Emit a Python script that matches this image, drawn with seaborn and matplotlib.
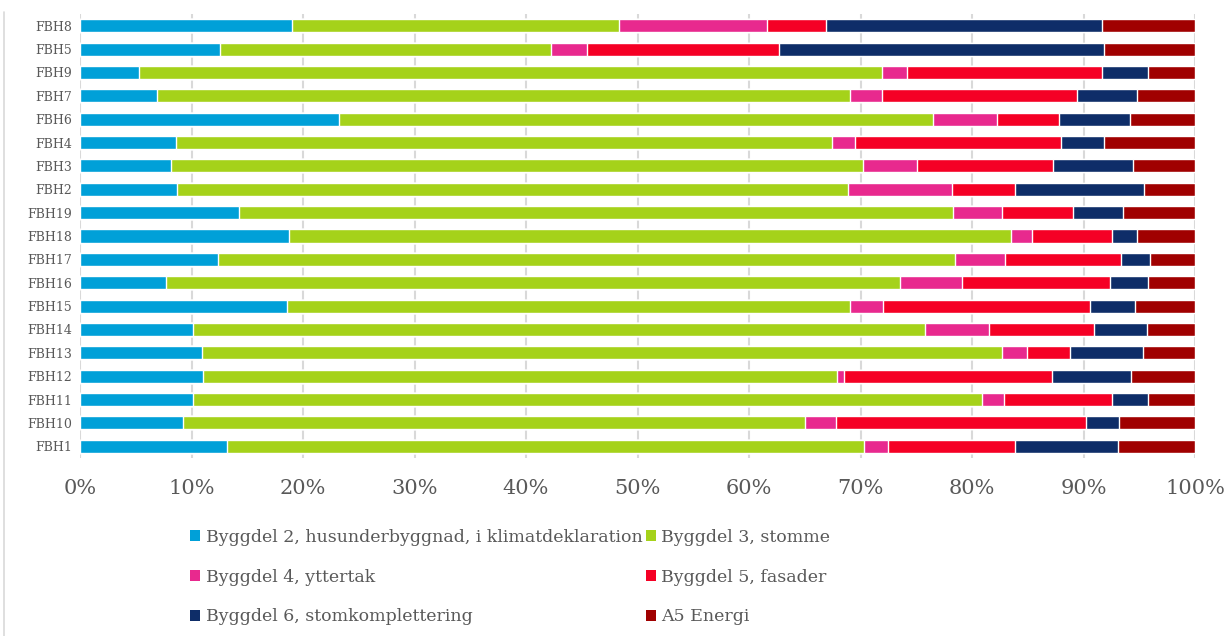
import matplotlib
matplotlib.use("Agg")
import matplotlib.pyplot as plt
import seaborn as sns
import numpy as np
import pandas as pd
from matplotlib.lines import Line2D
from matplotlib.patches import Patch

categories = ["FBH8", "FBH5", "FBH9", "FBH7", "FBH6", "FBH4", "FBH3", "FBH2", "FBH19",
              "FBH18", "FBH17", "FBH16", "FBH15", "FBH14", "FBH13", "FBH12", "FBH11",
              "FBH10", "FBH1"]

byggdel2 = [19.0, 12.6, 5.3, 6.9, 23.2, 8.6, 8.2, 8.7, 14.3, 18.7, 12.4, 7.7, 18.6, 10.1, 10.9, 11.0, 10.1, 9.2, 13.2]
byggdel3 = [29.3, 29.6, 66.6, 62.2, 53.3, 58.8, 62.0, 60.2, 64.0, 64.8, 66.1, 65.8, 50.5, 65.7, 71.8, 56.9, 70.8, 55.8, 57.1]
byggdel4 = [13.3, 3.3, 2.3, 2.8, 5.7, 2.1, 4.9, 9.3, 4.4, 1.9, 4.5, 5.6, 2.9, 5.7, 2.2, 0.6, 2.0, 2.8, 2.2]
byggdel5 = [5.3, 17.2, 17.5, 17.5, 5.6, 18.5, 12.2, 5.7, 6.4, 7.2, 10.4, 13.3, 18.6, 9.4, 3.9, 18.7, 9.7, 22.4, 11.4]
byggdel6 = [24.8, 29.1, 4.1, 5.4, 6.4, 3.8, 7.1, 11.5, 4.4, 2.2, 2.6, 3.4, 4.0, 4.8, 6.5, 7.1, 3.2, 3.0, 9.2]
a5_energi = [8.3, 8.2, 4.2, 5.2, 5.8, 8.2, 5.6, 4.6, 6.5, 5.2, 4.0, 4.2, 5.4, 4.3, 4.7, 5.7, 4.2, 6.8, 6.9]

series_names = ["Byggdel 2, husunderbyggnad, i klimatdeklaration", "Byggdel 3, stomme",
                "Byggdel 4, yttertak", "Byggdel 5, fasader",
                "Byggdel 6, stomkomplettering", "A5 Energi"]
colors = ["#00A0D8", "#A5D21A", "#E8298E", "#F50025", "#0E2D68", "#A00000"]
tick_labels = ["0%", "10%", "20%", "30%", "40%", "50%", "60%", "70%", "80%", "90%", "100%"]

series = [byggdel2, byggdel3, byggdel4, byggdel5, byggdel6, a5_energi]
vals = np.array(series, dtype=float)
vals = vals / vals.sum(axis=0) * 100.0
cum = np.cumsum(vals, axis=0)

sns.set_theme(style="white")
plt.rcParams["font.family"] = ["DejaVu Serif"]

fig = plt.figure(figsize=(12.29, 6.36), dpi=100)
ax = fig.add_axes([80 / 1229, 1 - 458 / 636, (1195 - 80) / 1229, (458 - 14) / 636])

# draw cumulative bars from largest to smallest so each overlays the previous
for i in range(len(series) - 1, -1, -1):
    df = pd.DataFrame({"cat": categories, "val": cum[i]})
    sns.barplot(data=df, x="val", y="cat", order=categories, color=colors[i],
                orient="h", width=0.56, saturation=1, ax=ax, zorder=3)

ax.set_xlim(0, 100)
ax.set_ylim(18.5, -0.5)
ax.set_xticks(np.arange(0, 101, 10))
ax.set_xticklabels(tick_labels, fontsize=15, color="#595959")
ax.tick_params(axis="x", length=0, pad=15)
ax.tick_params(axis="y", length=0, pad=6, labelsize=9, labelcolor="#595959")
ax.set_xlabel("")
ax.set_ylabel("")
ax.xaxis.grid(True, color="#D9D9D9", linewidth=1.5, zorder=0)
ax.yaxis.grid(False)
ax.set_axisbelow(True)
for s in ax.spines.values():
    s.set_visible(False)

handles = [Patch(facecolor=colors[i], edgecolor="none") for i in range(6)]
order = [0, 2, 4, 1, 3, 5]
leg = fig.legend([handles[i] for i in order], [series_names[i] for i in order],
                 ncol=2, loc="upper left", bbox_to_anchor=(190 / 1229, 1 - 529 / 636),
                 frameon=False, fontsize=12.5, labelcolor="#595959",
                 handlelength=0.6, handleheight=0.6, handletextpad=0.3,
                 columnspacing=0.2, labelspacing=1.3, borderaxespad=0, borderpad=0)

fig.add_artist(Line2D([4 / 1229, 4 / 1229], [0, 1 - 12 / 636], color="#D9D9D9", linewidth=1.2))

fig.savefig("out.png", dpi=100)
